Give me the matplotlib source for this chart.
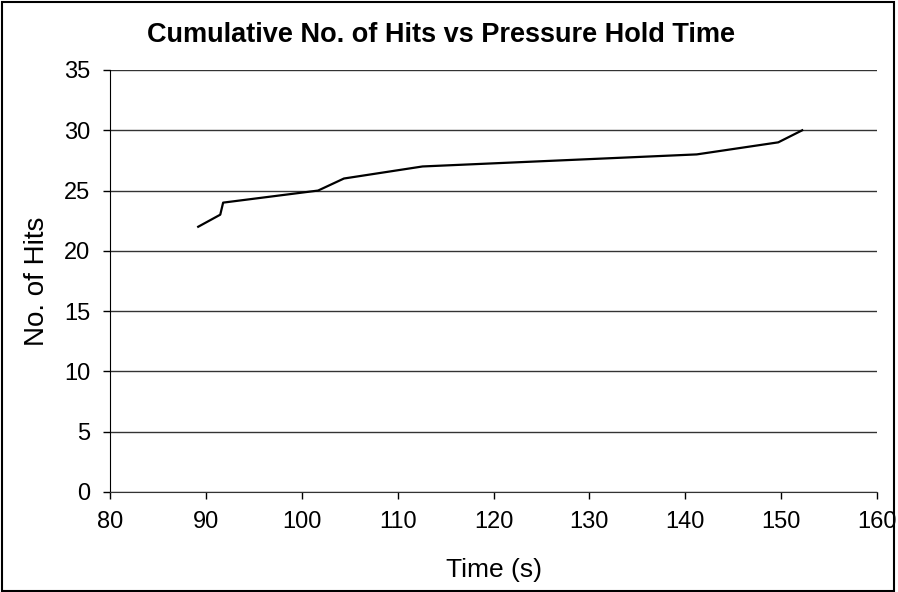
import matplotlib
matplotlib.use('Agg')
from matplotlib import pyplot as plt
from matplotlib.patches import Rectangle

# time (s) and cumulative hit count
time_s = [89.2, 91.5, 91.8, 101.7, 104.4, 112.6, 141.2, 149.7, 152.2]
hits = [22, 23, 24, 25, 26, 27, 28, 29, 30]

x_ticks = [80, 90, 100, 110, 120, 130, 140, 150, 160]
y_ticks = [0, 5, 10, 15, 20, 25, 30, 35]

plt.rcParams['font.family'] = ['Liberation Sans', 'DejaVu Sans']

fig = plt.figure(figsize=(8.98, 5.92), dpi=100)
ax = fig.add_axes([110 / 898, 1 - 492 / 592, (877 - 110) / 898, (492 - 70) / 592])

for y in y_ticks:
    ax.axhline(y, color='#333333', lw=1, zorder=1)

ax.plot(time_s, hits, color='black', lw=1.6, zorder=3)

ax.set_xlim(80, 160)
ax.set_ylim(0, 35)
ax.set_xticks(x_ticks)
ax.set_yticks(y_ticks)
ax.tick_params(labelsize=17, length=5, width=1, direction='out', pad=9, colors='black')

for s in ['top', 'right']:
    ax.spines[s].set_visible(False)
ax.spines['left'].set_color('black')
ax.spines['bottom'].set_color('#333333')

fig.text(441 / 898, 1 - 35 / 592, 'Cumulative No. of Hits vs Pressure Hold Time',
         fontsize=19.5, fontweight='bold', ha='center', va='center')
ax.set_xlabel('Time (s)', fontsize=19, labelpad=18)
ax.set_ylabel('No. of Hits', fontsize=20, labelpad=10)

# frame round the whole chart
fig.patches.append(Rectangle((0.002, 0.002), 0.994, 0.995, transform=fig.transFigure,
                             fill=False, edgecolor='black', lw=1.5))

fig.savefig('out.png', dpi=100)
